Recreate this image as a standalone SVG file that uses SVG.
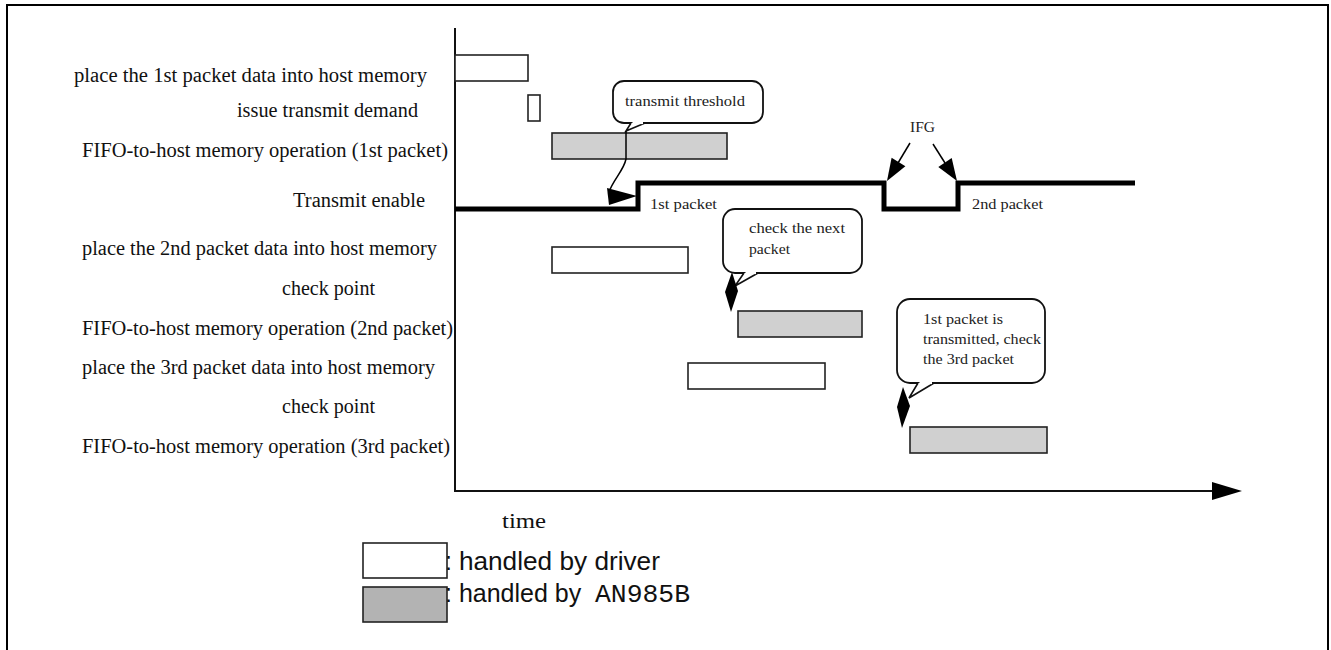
<svg xmlns="http://www.w3.org/2000/svg" width="1331" height="650" viewBox="0 0 1331 650">
<style>
.lbl{font-family:"Liberation Serif","Times New Roman",serif;font-size:20px;fill:#111}
.sm{font-family:"Liberation Serif","Times New Roman",serif;font-size:15px;fill:#222}
.leg{font-family:"Liberation Sans",Arial,sans-serif;font-size:25px;fill:#111}
.mono{font-family:"Liberation Mono","Courier New",monospace}
.drv{fill:#fff;stroke:#222;stroke-width:1.6}
.chip{fill:#d0d0d0;stroke:#222;stroke-width:1.6}
.bub{fill:#fff;stroke:#111;stroke-width:1.8}
.ax{fill:none;stroke:#111;stroke-width:2}
.sig{fill:none;stroke:#000;stroke-width:5;stroke-linejoin:miter}
.thin{fill:none;stroke:#000;stroke-width:1.5}
</style>
<rect width="1331" height="650" fill="#fff"/>
<path d="M7,650 V5 H1328 V650" fill="none" stroke="#000" stroke-width="2"/>

<g id="labels">
<text class="lbl" x="74" y="82" textLength="353" lengthAdjust="spacingAndGlyphs">place the 1st packet data into host memory</text>
<text class="lbl" x="237" y="117" textLength="181" lengthAdjust="spacingAndGlyphs">issue transmit demand</text>
<text class="lbl" x="82" y="157" textLength="366" lengthAdjust="spacingAndGlyphs">FIFO-to-host memory operation (1st packet)</text>
<text class="lbl" x="293" y="207" textLength="132" lengthAdjust="spacingAndGlyphs">Transmit enable</text>
<text class="lbl" x="82" y="255" textLength="355" lengthAdjust="spacingAndGlyphs">place the 2nd packet data into host memory</text>
<text class="lbl" x="282" y="295" textLength="93" lengthAdjust="spacingAndGlyphs">check point</text>
<text class="lbl" x="82" y="335" textLength="371" lengthAdjust="spacingAndGlyphs">FIFO-to-host memory operation (2nd packet)</text>
<text class="lbl" x="82" y="374" textLength="353" lengthAdjust="spacingAndGlyphs">place the 3rd packet data into host memory</text>
<text class="lbl" x="282" y="413" textLength="93" lengthAdjust="spacingAndGlyphs">check point</text>
<text class="lbl" x="82" y="453" textLength="368" lengthAdjust="spacingAndGlyphs">FIFO-to-host memory operation (3rd packet)</text>
</g>

<g id="axes">
<line class="ax" x1="455" y1="28" x2="455" y2="492"/>
<line class="ax" x1="455" y1="491" x2="1215" y2="491"/>
<polygon points="1212,482 1242,491 1212,500" fill="#000"/>
<text class="lbl" x="502" y="528" font-size="22" textLength="44" lengthAdjust="spacingAndGlyphs">time</text>
</g>

<g id="bar-place1"><rect class="drv" x="455" y="55" width="73" height="26"/></g>
<g id="bar-demand"><rect class="drv" x="528" y="95" width="12" height="26"/></g>
<g id="bar-fifo1"><rect class="chip" x="552" y="133" width="175" height="26"/></g>
<g id="bar-place2"><rect class="drv" x="552" y="247" width="136" height="26"/></g>
<g id="bar-fifo2"><rect class="chip" x="738" y="311" width="124" height="26"/></g>
<g id="bar-place3"><rect class="drv" x="688" y="363" width="137" height="26"/></g>
<g id="bar-fifo3"><rect class="chip" x="910" y="427" width="137" height="26"/></g>

<g id="transmit-enable">
<path class="sig" d="M455,209 H638 V183 H884 V209 H958 V183 H1135"/>
<text class="sm" x="650" y="209" textLength="67" lengthAdjust="spacingAndGlyphs">1st packet</text>
<text class="sm" x="972" y="209" textLength="71" lengthAdjust="spacingAndGlyphs">2nd packet</text>
</g>

<g id="ifg">
<text class="sm" x="910" y="132" textLength="25" lengthAdjust="spacingAndGlyphs">IFG</text>
<path class="thin" d="M910,143 L898,163"/>
<polygon points="887,181 891.6,157.8 905.4,166.2" fill="#000"/>
<path class="thin" d="M933,144 L945,163"/>
<polygon points="957,181 938.3,166.9 951.7,158.1" fill="#000"/>
</g>

<g id="callout-threshold">
<rect class="bub" x="613" y="81" width="150" height="42" rx="11"/>
<path d="M631,123 L626,131 L645,123" fill="#fff" stroke="#111" stroke-width="1.6"/>
<line x1="632.5" y1="123" x2="643" y2="123" stroke="#fff" stroke-width="2.2"/>
<text class="sm" x="625" y="106" textLength="120" lengthAdjust="spacingAndGlyphs">transmit threshold</text>
</g>

<g id="callout-next">
<rect class="bub" x="723" y="209" width="139" height="64" rx="12"/>
<path d="M744,273 L735,286 L758,273" fill="#fff" stroke="#111" stroke-width="1.6"/>
<line x1="745.5" y1="273" x2="756" y2="273" stroke="#fff" stroke-width="2.2"/>
<text class="sm" x="749" y="233" textLength="96" lengthAdjust="spacingAndGlyphs">check the next</text>
<text class="sm" x="749" y="254" textLength="41" lengthAdjust="spacingAndGlyphs">packet</text>
<polygon points="732,272 738,291 731,312 725,292" fill="#000"/>
</g>

<g id="callout-third">
<rect class="bub" x="897" y="299" width="148" height="84" rx="13"/>
<path d="M918,383 L909,398 L934,383" fill="#fff" stroke="#111" stroke-width="1.6"/>
<line x1="919.5" y1="383" x2="932" y2="383" stroke="#fff" stroke-width="2.2"/>
<text class="sm" x="923" y="324" textLength="80" lengthAdjust="spacingAndGlyphs">1st packet is</text>
<text class="sm" x="923" y="344" textLength="118" lengthAdjust="spacingAndGlyphs">transmitted, check</text>
<text class="sm" x="923" y="364" textLength="91" lengthAdjust="spacingAndGlyphs">the 3rd packet</text>
<polygon points="903,387 910,406 902,428 897,407" fill="#000"/>
</g>

<g id="connectors">
<path class="thin" d="M626,131 L626,159 C624,170 613,180 609,192"/>
<polygon points="607,188 637,196 609,205" fill="#000"/>
</g>

<g id="legend">
<rect class="drv" x="363" y="543" width="84" height="35"/>
<rect x="363" y="587" width="84" height="35" fill="#b3b3b3" stroke="#222" stroke-width="1.6"/>
<text class="leg" x="445" y="570">: <tspan textLength="201" lengthAdjust="spacingAndGlyphs">handled by driver</tspan></text>
<text class="leg" x="445" y="602">: handled by <tspan class="mono" x="595" textLength="95" lengthAdjust="spacingAndGlyphs">AN985B</tspan></text>
</g>
</svg>
